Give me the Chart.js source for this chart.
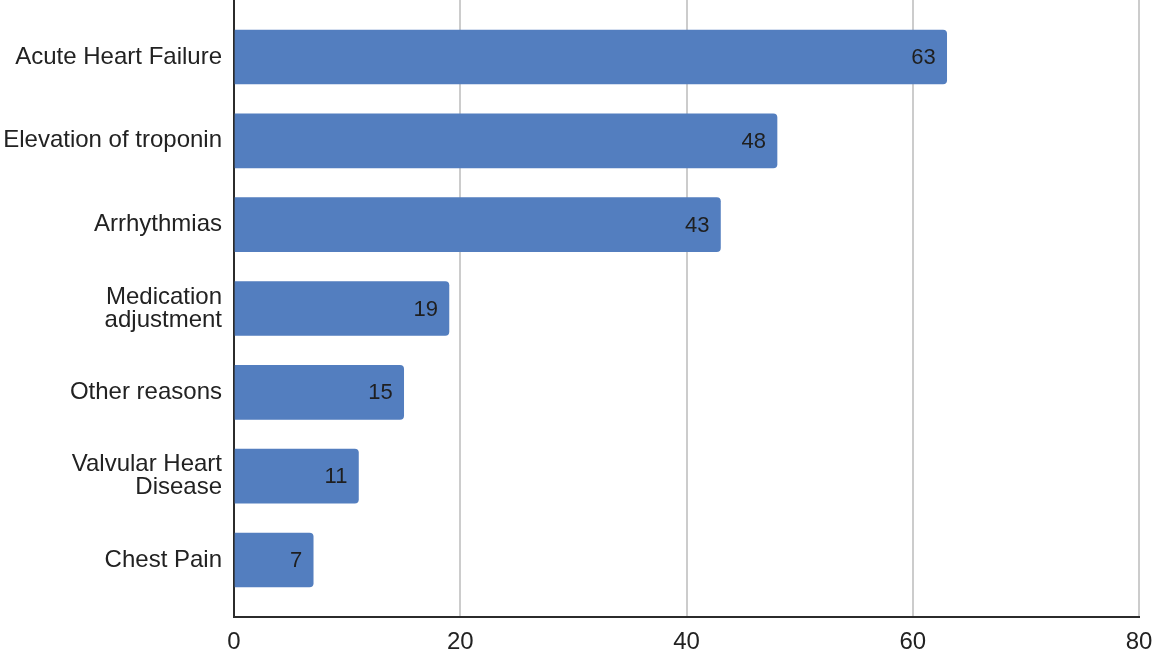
<!DOCTYPE html>
<html>
<head>
<meta charset="utf-8">
<script src="https://cdn.jsdelivr.net/npm/chart.js@4.4.1/dist/chart.umd.min.js"></script>
<style>
  html, body { margin: 0; padding: 0; background: #fff; }
  #wrap { width: 1153px; height: 651px; }
</style>
</head>
<body>
<div id="wrap"><canvas id="chart"></canvas></div>
<script>
// categories and counts
const reasons = [
    'Acute Heart Failure',
    'Elevation of troponin',
    'Arrhythmias',
    ['Medication', 'adjustment'],
    'Other reasons',
    ['Valvular Heart', 'Disease'],
    'Chest Pain'
];
const counts = [63, 48, 43, 19, 15, 11, 7];
const xTicks = [0, 20, 40, 60, 80];

const FONT = "'Liberation Sans', Arial, sans-serif";
const BAR_COLOR = '#537ebf';

// bar value labels, inside the bar end
const valueLabels = {
    id: 'valueLabels',
    afterDatasetsDraw(chart) {
        const ctx = chart.ctx;
        const meta = chart.getDatasetMeta(0);
        ctx.save();
        ctx.font = '22px ' + FONT;
        ctx.fillStyle = '#1f1f1f';
        ctx.textAlign = 'right';
        ctx.textBaseline = 'middle';
        meta.data.forEach((bar, i) => {
            ctx.fillText(String(counts[i]), bar.x - 11, bar.y + 1);
        });
        ctx.restore();
    }
};

new Chart(document.getElementById('chart'), {
    type: 'bar',
    data: {
        datasets: [{
            data: counts.map((v, i) => ({ x: v, y: i })),
            backgroundColor: BAR_COLOR,
            barThickness: 54,
            borderSkipped: 'start',
            borderRadius: { topLeft: 0, bottomLeft: 0, topRight: 4, bottomRight: 4 }
        }]
    },
    plugins: [valueLabels],
    options: {
        indexAxis: 'y',
        responsive: true,
        maintainAspectRatio: false,
        animation: false,
        layout: { padding: 0 },
        plugins: {
            legend: { display: false },
            tooltip: { enabled: false }
        },
        scales: {
            x: {
                type: 'linear',
                min: 0,
                max: 80,
                afterBuildTicks: s => { s.ticks = xTicks.map(v => ({ value: v })); },
                afterFit: s => { s.height = 34; s.paddingLeft = 0; s.paddingRight = 14; },
                grid: { color: '#cccccc', lineWidth: 2, drawTicks: false },
                border: { display: true, color: '#2b2b2b', width: 2 },
                ticks: {
                    color: '#222',
                    padding: 11,
                    font: { family: FONT, size: 24 }
                }
            },
            y: {
                type: 'linear',
                reverse: true,
                offset: false,
                min: -0.68,
                max: 6.68,
                afterBuildTicks: s => { s.ticks = reasons.map((_, i) => ({ value: i })); },
                afterFit: s => { s.width = 234; s.paddingTop = 0; s.paddingBottom = 0; },
                grid: { display: false, drawTicks: false, offset: false },
                border: { display: true, color: '#2b2b2b', width: 2 },
                ticks: {
                    color: '#222',
                    padding: 12,
                    font: { family: FONT, size: 24, lineHeight: 0.96 },
                    callback: v => reasons[v]
                }
            }
        }
    }
});
</script>
</body>
</html>
